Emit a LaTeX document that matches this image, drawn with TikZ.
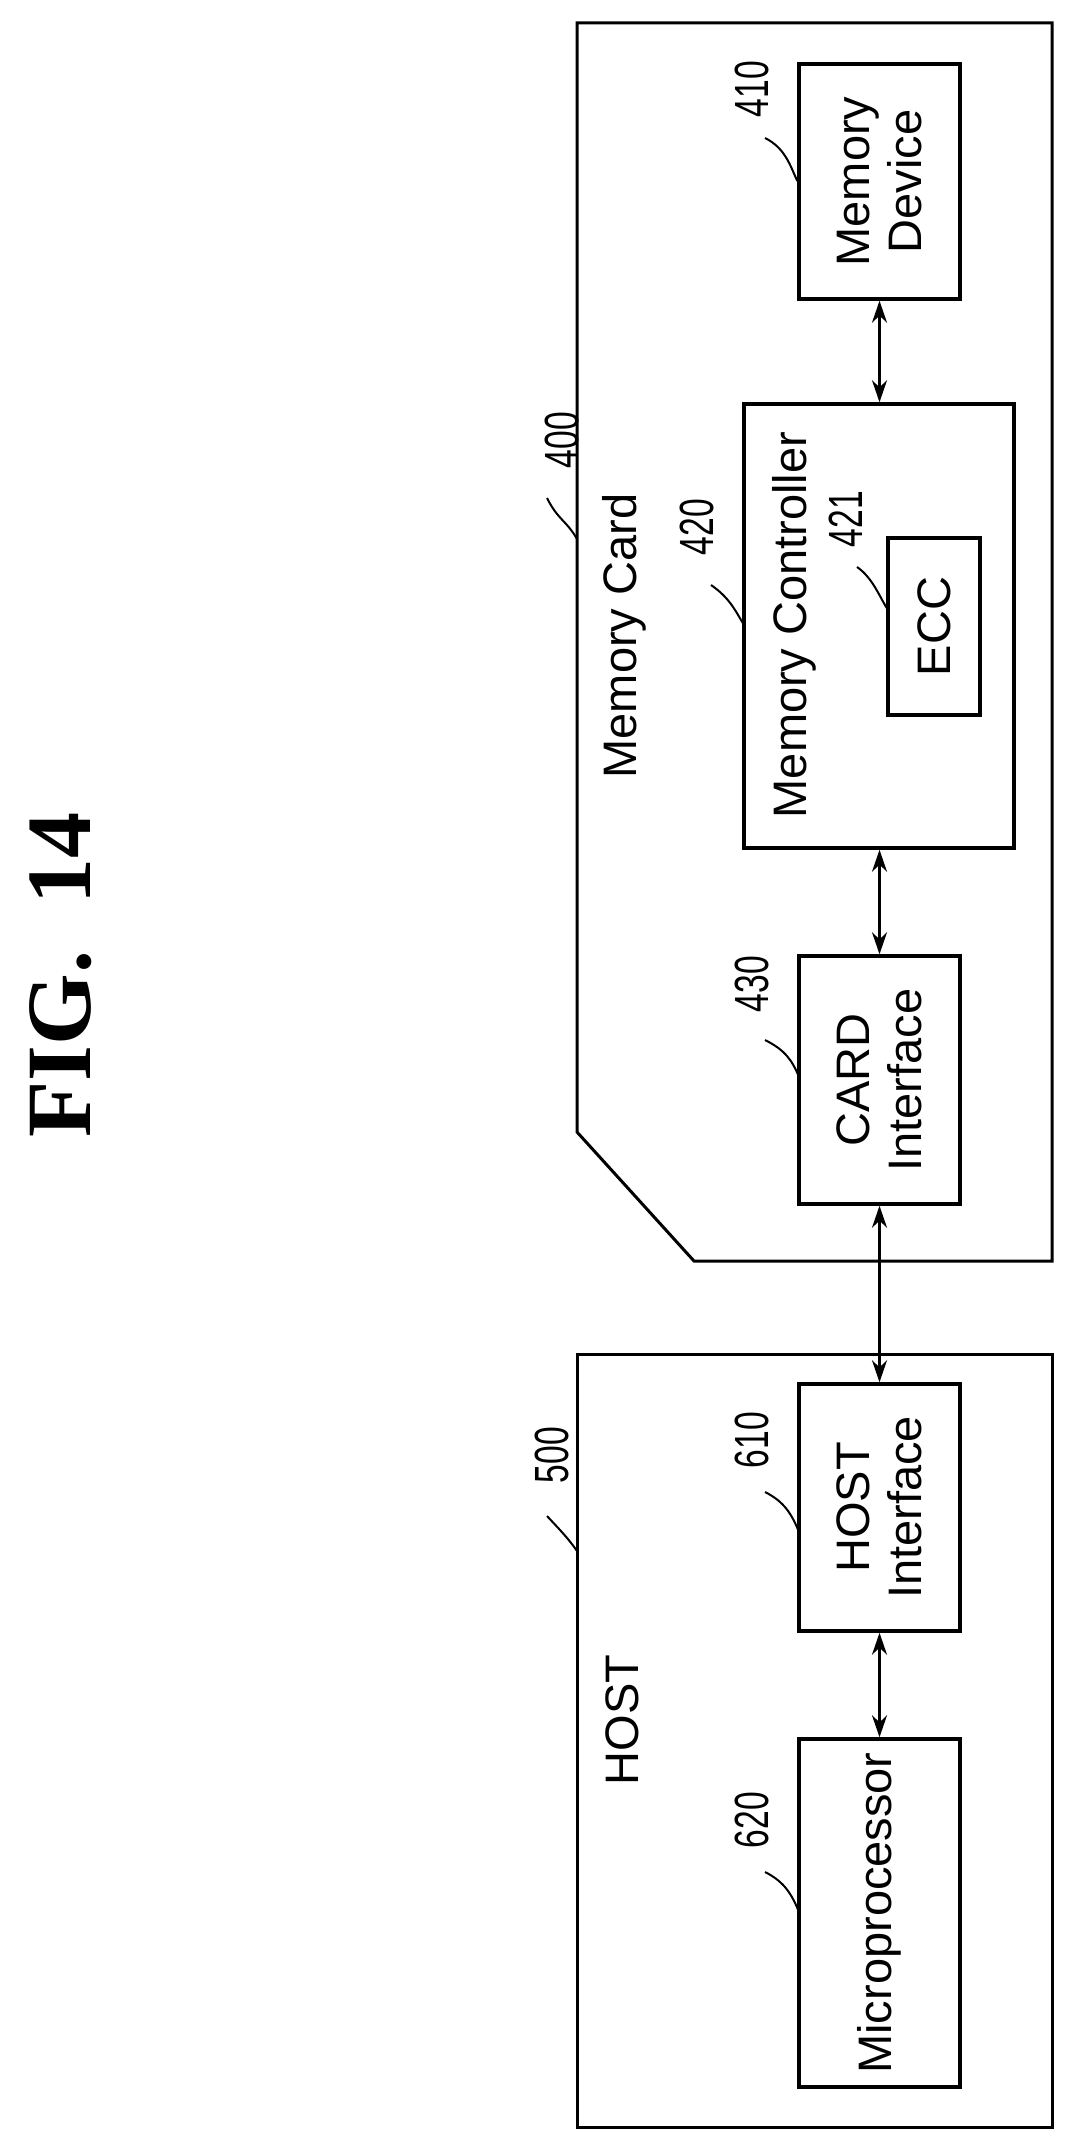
\documentclass[tikz,border=0pt]{standalone}
\usepackage{fontspec}
\setmainfont{Liberation Sans}
\newfontfamily\numfont{Liberation Sans}[FakeStretch=0.7]
\newfontfamily\figfont{Liberation Serif}
\usetikzlibrary{arrows.meta}
\begin{document}
\begin{tikzpicture}[x=1pt,y=1pt,
  box/.style={draw,line width=3.5pt,inner sep=0pt},
  lbl/.style={rotate=90,font=\fontsize{47}{52}\selectfont,align=center},
  num/.style={rotate=90,font=\numfont\fontsize{48}{52}\selectfont},
  lead/.style={line width=2pt},
  arr/.style={line width=3pt,{Stealth[length=22pt,width=15pt]}-{Stealth[length=22pt,width=15pt]}}]
\useasboundingbox (0,0) rectangle (1073,-2135);
% title
\node[rotate=90,font=\figfont\bfseries\fontsize{92}{100}\selectfont] (fig) at (61,-975) {FIG.\ \ 14};
% memory card outline
\draw[line width=3pt] (577,-23) -- (1052,-23) -- (1052,-1261) -- (694,-1261) -- (577,-1132) -- cycle;
\coordinate (cardedge) at (577,-539);
% host outline
\draw[line width=3pt] (577,-1354) rectangle (1052,-2127);
\coordinate (hostedge) at (577,-1551);
% boxes
\node[box,minimum width=161pt,minimum height=235pt] (md) at (879.5,-181.5) {};
\node[lbl] at (md.center) {Memory\\Device};
\node[box,minimum width=270pt,minimum height=444pt] (mc) at (879,-626) {};
\node[lbl] (mctext) at (794,-625) {Memory Controller};
\node[box,minimum width=92pt,minimum height=177pt] (ecc) at (934,-626.5) {};
\node[lbl] at (ecc.center) {ECC};
\node[box,minimum width=161pt,minimum height=248pt] (ci) at (879.5,-1080) {};
\node[lbl] at (ci.center) {CARD\\Interface};
\node[box,minimum width=161pt,minimum height=247pt] (hi) at (879.5,-1507.5) {};
\node[lbl] at (hi.center) {HOST\\Interface};
\node[box,minimum width=161pt,minimum height=348pt] (mp) at (879.5,-1913) {};
\node[lbl] at (mp.center) {Microprocessor};
% container labels
\node[lbl] (mcard) at (624,-636) {Memory Card};
\node[lbl] (hostl) at (622,-1720) {HOST};
% arrows
\draw[arr] (md.south) -- (mc.north -| md.south);
\draw[arr] (mc.south -| ci.north) -- (ci.north);
\draw[arr] (ci.south) -- (hi.north);
\draw[arr] (hi.south) -- (mp.north);
% reference numbers
\node[num] (n400) at (562,-440) {400};
\draw[lead] (547,-498) .. controls (558,-520) and (566,-520) .. (cardedge);
\node[num] (n410) at (752,-89) {410};
\draw[lead] (765,-138) .. controls (785,-148) and (790,-165) .. (md.north west |- 0,-181);
\node[num] (n420) at (697,-527) {420};
\draw[lead] (711,-585) .. controls (730,-598) and (736,-612) .. (744,-625);
\node[num] (n421) at (846,-519) {421};
\draw[lead] (857,-567) .. controls (873,-578) and (880,-598) .. (888,-610);
\node[num] (n430) at (752,-984) {430};
\draw[lead] (765,-1040) .. controls (785,-1050) and (792,-1060) .. (799,-1077);
\node[num] (n500) at (552,-1455) {500};
\draw[lead] (547,-1516) .. controls (560,-1530) and (568,-1538) .. (hostedge);
\node[num] (n610) at (752,-1440) {610};
\draw[lead] (765,-1492) .. controls (785,-1502) and (792,-1515) .. (799,-1532);
\node[num] (n620) at (752,-1820) {620};
\draw[lead] (765,-1872) .. controls (785,-1882) and (792,-1895) .. (799,-1912);
\end{tikzpicture}
\end{document}
